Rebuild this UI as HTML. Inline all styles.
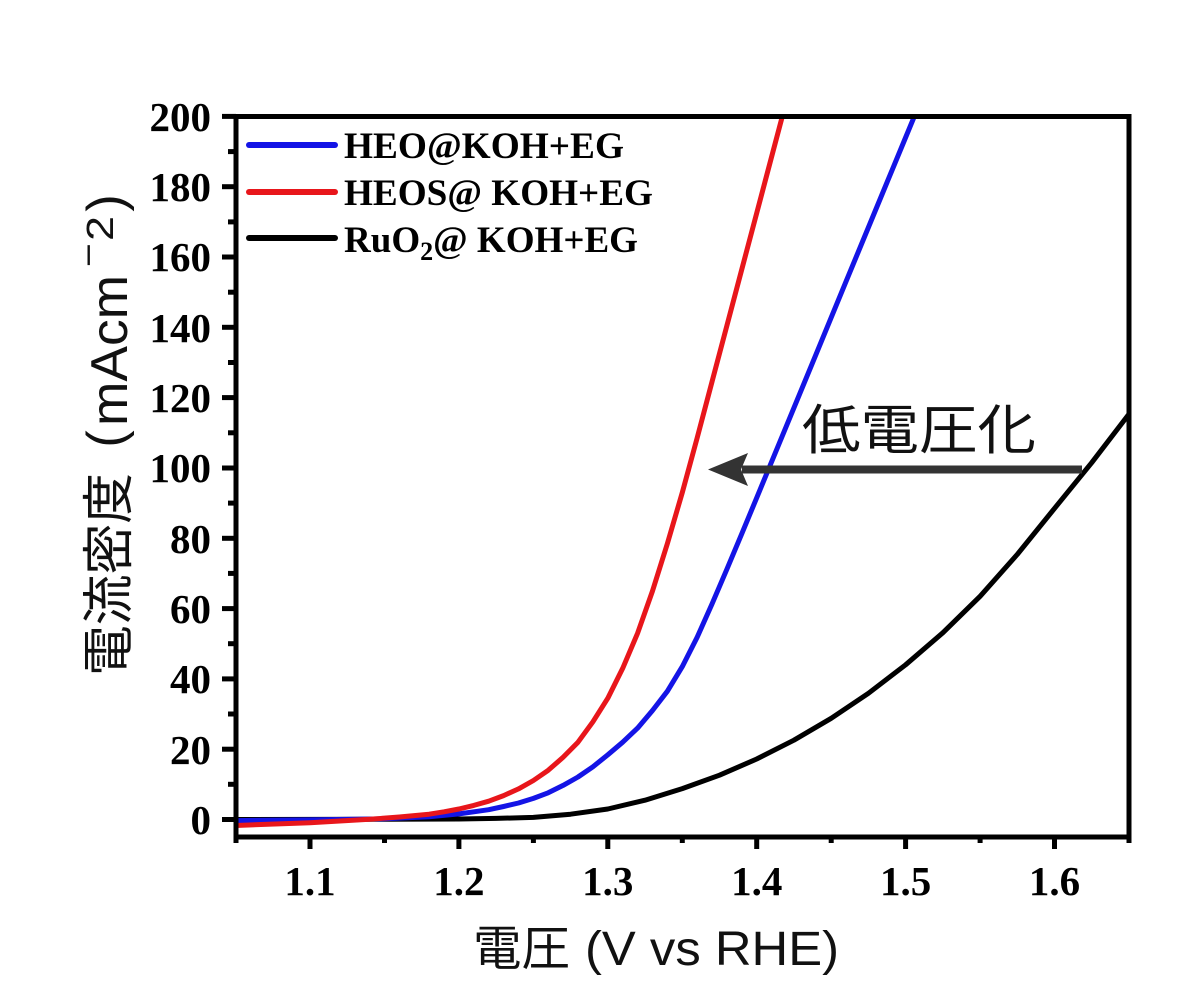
<!DOCTYPE html>
<html>
<head>
<meta charset="utf-8">
<style>
  html,body{margin:0;padding:0;background:#fff;}
  svg{display:block;}
  .tick{font-family:"Liberation Serif","Noto Serif CJK SC",serif;font-weight:bold;font-size:41px;fill:#000;}
  .leg{font-family:"Liberation Serif","Noto Serif CJK SC",serif;font-weight:bold;font-size:37px;fill:#000;}
  .cjk{font-family:"Liberation Sans","Noto Sans CJK JP",sans-serif;fill:#111;}
  .lat{font-family:"Liberation Sans","Noto Sans CJK JP",sans-serif;fill:#111;}
</style>
</head>
<body>
<svg width="1200" height="1004" viewBox="0 0 1200 1004" xmlns="http://www.w3.org/2000/svg">
  <rect x="0" y="0" width="1200" height="1004" fill="#fff"/>
  <defs>
    <clipPath id="plot">
      <rect x="236" y="116" width="893" height="721"/>
    </clipPath>
  </defs>

  <!-- curves -->
  <g clip-path="url(#plot)" fill="none" stroke-width="5" stroke-linecap="round" stroke-linejoin="round">
    <polyline stroke="#000" points="235.6,819.5 384.5,819.3 458.9,819.0 496.1,818.4 533.4,817.4 570.6,814.2 607.8,809.0 645.0,800.2 682.3,788.6 719.5,775.2 756.7,759.0 793.9,740.2 831.2,718.3 868.4,693.3 905.6,664.8 942.8,632.8 980.1,596.3 1017.3,554.4 1054.5,508.4 1091.7,462.7 1129.4,413.5 1144.3,394.1"/>
    <polyline stroke="#1414e6" points="235.6,820.6 310,819.9 384.5,818.8 429.1,816.7 458.9,813.9 473.8,811.8 488.7,809.7 503.6,806.5 518.5,803.0 533.4,798.4 548.2,792.8 563.1,785.4 578,777.0 592.9,766.8 607.8,754.8 622.7,742.2 637.6,728.1 652.5,710.5 667.4,691.2 682.3,666.6 697.1,637.4 712,604.0 726.9,569.2 741.8,533.7 756.7,497.8 786.5,425.8 816.3,353.7 846,281.6 875.8,209.5 905.6,137.5 935.4,65.4"/>
    <polyline stroke="#e8161b" points="235.6,825.5 310,822.7 339.8,821.0 369.6,819.3 399.3,817.0 414.2,815.6 429.1,814.2 444,811.8 458.9,809.0 473.8,805.4 488.7,801.2 503.6,795.6 518.5,788.9 533.4,780.5 548.2,770.3 563.1,757.3 578,742.2 592.9,721.8 607.8,698.2 622.7,668.3 637.6,633.2 652.5,591.0 667.4,543.5 682.3,492.5 697.1,438.1 712,381.8 726.9,325.6 741.8,269.3 756.7,213.1 771.6,156.8 786.5,100.6"/>
  </g>

  <!-- arrow -->
  <line x1="1082" y1="469.5" x2="742" y2="469.5" stroke="#333" stroke-width="8"/>
  <polygon points="708,469.5 748,453 741,469.5 748,486" fill="#333"/>
  <text class="cjk" x="802" y="449" font-size="54" textLength="234" lengthAdjust="spacingAndGlyphs">低電圧化</text>

  <!-- frame -->
  <rect x="236" y="116.5" width="893" height="720.5" fill="none" stroke="#000" stroke-width="5"/>

  <!-- y ticks -->
  <g stroke="#000" stroke-width="5">
    <line x1="222" y1="819.5" x2="236" y2="819.5"/>
    <line x1="222" y1="749.2" x2="236" y2="749.2"/>
    <line x1="222" y1="678.9" x2="236" y2="678.9"/>
    <line x1="222" y1="608.6" x2="236" y2="608.6"/>
    <line x1="222" y1="538.3" x2="236" y2="538.3"/>
    <line x1="222" y1="468.0" x2="236" y2="468.0"/>
    <line x1="222" y1="397.6" x2="236" y2="397.6"/>
    <line x1="222" y1="327.3" x2="236" y2="327.3"/>
    <line x1="222" y1="257.0" x2="236" y2="257.0"/>
    <line x1="222" y1="186.7" x2="236" y2="186.7"/>
    <line x1="222" y1="116.4" x2="236" y2="116.4"/>
    <line x1="228" y1="784.3" x2="236" y2="784.3"/>
    <line x1="228" y1="714.0" x2="236" y2="714.0"/>
    <line x1="228" y1="643.7" x2="236" y2="643.7"/>
    <line x1="228" y1="573.4" x2="236" y2="573.4"/>
    <line x1="228" y1="503.1" x2="236" y2="503.1"/>
    <line x1="228" y1="432.8" x2="236" y2="432.8"/>
    <line x1="228" y1="362.5" x2="236" y2="362.5"/>
    <line x1="228" y1="292.2" x2="236" y2="292.2"/>
    <line x1="228" y1="221.9" x2="236" y2="221.9"/>
    <line x1="228" y1="151.6" x2="236" y2="151.6"/>
  </g>
  <!-- x ticks -->
  <g stroke="#000" stroke-width="5">
    <line x1="310" y1="837" x2="310" y2="849"/>
    <line x1="458.9" y1="837" x2="458.9" y2="849"/>
    <line x1="607.8" y1="837" x2="607.8" y2="849"/>
    <line x1="756.7" y1="837" x2="756.7" y2="849"/>
    <line x1="905.6" y1="837" x2="905.6" y2="849"/>
    <line x1="1054.5" y1="837" x2="1054.5" y2="849"/>
    <line x1="236" y1="837" x2="236" y2="843"/>
    <line x1="384.5" y1="837" x2="384.5" y2="843"/>
    <line x1="533.4" y1="837" x2="533.4" y2="843"/>
    <line x1="682.3" y1="837" x2="682.3" y2="843"/>
    <line x1="831.2" y1="837" x2="831.2" y2="843"/>
    <line x1="980.1" y1="837" x2="980.1" y2="843"/>
    <line x1="1129" y1="837" x2="1129" y2="843"/>
  </g>

  <!-- y tick labels -->
  <g class="tick" text-anchor="end">
    <text x="211" y="834">0</text>
    <text x="211" y="764">20</text>
    <text x="211" y="693">40</text>
    <text x="211" y="623">60</text>
    <text x="211" y="553">80</text>
    <text x="211" y="482">100</text>
    <text x="211" y="412">120</text>
    <text x="211" y="342">140</text>
    <text x="211" y="271">160</text>
    <text x="211" y="201">180</text>
    <text x="211" y="131">200</text>
  </g>
  <!-- x tick labels -->
  <g class="tick" text-anchor="middle">
    <text x="310" y="895">1.1</text>
    <text x="458.9" y="895">1.2</text>
    <text x="607.8" y="895">1.3</text>
    <text x="756.7" y="895">1.4</text>
    <text x="905.6" y="895">1.5</text>
    <text x="1054.5" y="895">1.6</text>
  </g>

  <!-- legend -->
  <g stroke-width="6" stroke-linecap="round">
    <line x1="249" y1="145" x2="335" y2="145" stroke="#1414e6"/>
    <line x1="249" y1="192" x2="335" y2="192" stroke="#e8161b"/>
    <line x1="249" y1="238" x2="335" y2="238" stroke="#000"/>
  </g>
  <text class="leg" x="344" y="158" textLength="280" lengthAdjust="spacingAndGlyphs">HEO@KOH+EG</text>
  <text class="leg" x="344" y="205" textLength="309" lengthAdjust="spacingAndGlyphs">HEOS@ KOH+EG</text>
  <text class="leg" x="344" y="252" textLength="294" lengthAdjust="spacingAndGlyphs">RuO<tspan font-size="26" dy="8">2</tspan><tspan dy="-8">@ KOH+EG</tspan></text>

  <!-- x axis label -->
  <text class="cjk" x="473" y="965" font-size="48" textLength="97" lengthAdjust="spacingAndGlyphs">電圧</text>
  <text class="lat" x="585" y="965" font-size="48" textLength="254" lengthAdjust="spacingAndGlyphs">(V vs RHE)</text>

  <!-- y axis label -->
  <g transform="translate(127,0) rotate(-90)">
    <text class="cjk" x="-676" y="0" font-size="52" textLength="203" lengthAdjust="spacingAndGlyphs">電流密度</text>
    <text class="lat" x="-439" y="-4" font-size="52" text-anchor="middle">(</text>
    <text class="lat" x="-426" y="0" font-size="52" textLength="151" lengthAdjust="spacingAndGlyphs">mAcm</text>
    <text class="lat" x="-267" y="-27" font-size="34" textLength="24" lengthAdjust="spacingAndGlyphs">−</text>
    <text class="lat" x="-241" y="-14" font-size="38" textLength="25" lengthAdjust="spacingAndGlyphs">2</text>
    <text class="lat" x="-203" y="-4" font-size="52" text-anchor="middle">)</text>
  </g>
</svg>
</body>
</html>
